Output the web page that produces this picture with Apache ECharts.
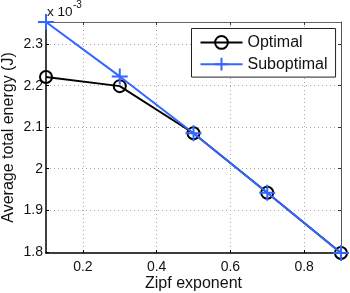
<!DOCTYPE html>
<html>
<head>
<meta charset="utf-8">
<script src="https://cdn.jsdelivr.net/npm/echarts@6/dist/echarts.min.js"></script>
<style>html,body{margin:0;padding:0;background:#fff}#c{width:350px;height:293px}</style>
</head>
<body>
<div id="c"></div>
<script>
// Data (energy values in units of 1e-3 J)
var zipfExponent = [0.1, 0.3, 0.5, 0.7, 0.9];
var optimal = [2.221, 2.199, 2.0855, 1.942, 1.797];
var suboptimal = [2.3535, 2.2224, 2.0855, 1.942, 1.797];
var xTicks = [0.2, 0.4, 0.6, 0.8];
var yTicks = [1.8, 1.9, 2.0, 2.1, 2.2, 2.3];
var xRange = [0.1, 0.9];
var yRange = [1.797, 2.3535];
var seriesNames = ['Optimal', 'Suboptimal'];
var xName = 'Zipf exponent';
var yName = 'Average total energy (J)';
var scaleBase = 'x 10';
var scaleExp = '-3';

var FONT = '"Liberation Sans", Arial, Helvetica, sans-serif';
var BLUE = '#3366ff';

function pairs(xs, ys) { return xs.map(function (x, i) { return [x, ys[i]]; }); }

var chart = echarts.init(document.getElementById('c'), null, { renderer: 'canvas' });
var tickLabel = { fontSize: 14, color: '#111', fontFamily: FONT };
var gridLine = { show: true, lineStyle: { color: '#a8a8a8', type: [1, 3], width: 1 } };

chart.setOption({
  animation: false,
  backgroundColor: '#fff',
  textStyle: { fontFamily: FONT },
  grid: { left: 46, right: 9, top: 22, bottom: 40, containLabel: false, outerBoundsMode: 'none' },
  graphic: [
    { type: 'text', left: 47, top: 5, style: { text: scaleBase, fontSize: 13.5, fontFamily: FONT, fill: '#111' } },
    { type: 'text', left: 73, top: 0, style: { text: scaleExp, fontSize: 10, fontFamily: FONT, fill: '#111' } }
  ],
  legend: {
    show: true,
    orient: 'vertical',
    left: 191.5,
    top: 28.5,
    padding: [5, 8, 4, 8],
    itemWidth: 42,
    itemHeight: 16,
    itemGap: 4,
    borderColor: '#222',
    borderWidth: 1,
    backgroundColor: '#fff',
    selectedMode: false,
    textStyle: { fontSize: 16, fontFamily: FONT, color: '#111', lineHeight: 16 },
    data: seriesNames
  },
  xAxis: [
    {
      type: 'value', position: 'bottom', min: xRange[0], max: xRange[1],
      name: xName, nameLocation: 'middle', nameGap: 23, nameMoveOverlap: false,
      nameTextStyle: { fontSize: 16, fontFamily: FONT, color: '#111' },
      axisLine: { show: true, onZero: false, lineStyle: { color: '#000', width: 1.5 } },
      axisTick: { show: true, inside: true, length: 3, customValues: xTicks, lineStyle: { color: '#000' } },
      axisLabel: Object.assign({ margin: 7, customValues: xTicks, formatter: function (v) { return String(v); } }, tickLabel),
      splitLine: gridLine
    },
    {
      type: 'value', position: 'top', min: xRange[0], max: xRange[1],
      axisLine: { show: true, onZero: false, lineStyle: { color: '#666', width: 1 } },
      axisTick: { show: true, inside: true, length: 3, customValues: xTicks, lineStyle: { color: '#333' } },
      axisLabel: { show: false },
      splitLine: { show: false }
    }
  ],
  yAxis: [
    {
      type: 'value', position: 'left', min: yRange[0], max: yRange[1],
      name: yName, nameLocation: 'middle', nameGap: 29, nameRotate: 90, nameMoveOverlap: false,
      nameTextStyle: { fontSize: 16, fontFamily: FONT, color: '#111' },
      axisLine: { show: true, onZero: false, lineStyle: { color: '#000', width: 1.5 } },
      axisTick: { show: true, inside: true, length: 3, customValues: yTicks, lineStyle: { color: '#000' } },
      axisLabel: Object.assign({ margin: 3, customValues: yTicks, formatter: function (v) { return String(v); } }, tickLabel),
      splitLine: gridLine
    },
    {
      type: 'value', position: 'right', min: yRange[0], max: yRange[1],
      axisLine: { show: true, onZero: false, lineStyle: { color: '#555', width: 1 } },
      axisTick: { show: true, inside: true, length: 3, customValues: yTicks, lineStyle: { color: '#333' } },
      axisLabel: { show: false },
      splitLine: { show: false }
    }
  ],
  series: [
    {
      name: seriesNames[0], type: 'line', xAxisIndex: 0, yAxisIndex: 0,
      data: pairs(zipfExponent, optimal),
      symbol: 'circle', symbolSize: 12, showAllSymbol: true, clip: false,
      lineStyle: { color: '#000', width: 1.8 },
      itemStyle: { color: 'none', borderColor: '#000', borderWidth: 2 },
      emphasis: { disabled: true }, z: 2
    },
    {
      name: seriesNames[1], type: 'line', xAxisIndex: 0, yAxisIndex: 0,
      data: pairs(zipfExponent, suboptimal),
      symbol: 'path://M0,6L12,6M6,0L6,12', symbolSize: 16, showAllSymbol: true, clip: false,
      lineStyle: { color: BLUE, width: 2 },
      itemStyle: { color: 'none', borderColor: BLUE, borderWidth: 2 },
      emphasis: { disabled: true }, z: 3
    }
  ]
});
</script>
</body>
</html>
